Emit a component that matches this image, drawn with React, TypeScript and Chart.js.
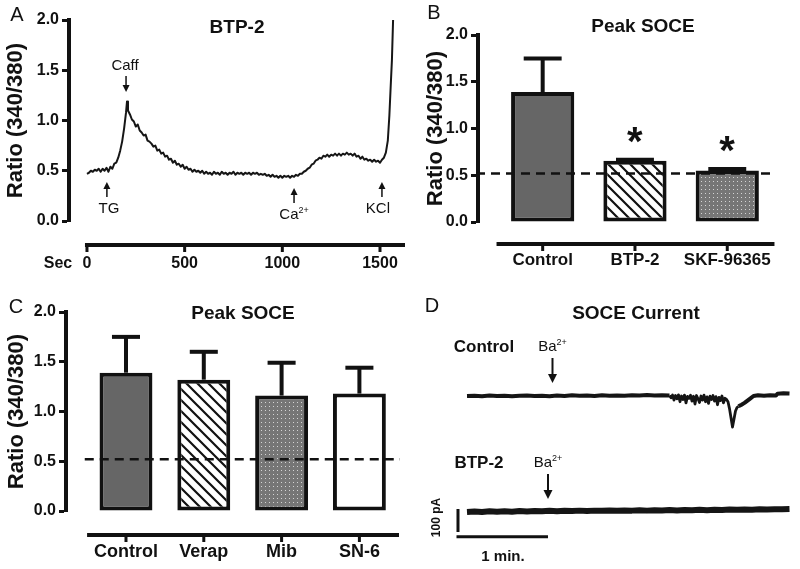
import React, { useEffect, useRef } from "react";
import { Chart, registerables } from "chart.js";

Chart.register(...registerables);

const FONT = "'Liberation Sans', Arial, Helvetica, sans-serif";
const INK = "#111111";
Chart.defaults.font.family = FONT;
Chart.defaults.color = INK;

// ---------------- Panel A : BTP-2 ratio trace ----------------
const traceTime = [
  0, 10, 20, 30, 40, 50, 60, 70, 80, 90, 100, 110, 120, 130, 140, 150, 160, 170, 180, 190,
  200, 205, 210, 220, 230, 240, 250, 260, 270, 280, 290, 300, 310, 320, 330, 340, 350, 360, 370, 380,
  390, 400, 410, 420, 430, 440, 450, 460, 470, 480, 490, 500, 510, 520, 530, 540, 550, 560, 570, 580,
  590, 600, 610, 620, 630, 640, 650, 660, 670, 680, 690, 700, 710, 720, 730, 740, 750, 760, 770, 780,
  790, 800, 810, 820, 830, 840, 850, 860, 870, 880, 890, 900, 910, 920, 930, 940, 950, 960, 970, 980,
  990, 1000, 1010, 1020, 1030, 1040, 1050, 1060, 1070, 1080, 1090, 1100, 1110, 1120, 1130, 1140, 1150, 1160, 1170, 1180,
  1190, 1200, 1210, 1220, 1230, 1240, 1250, 1260, 1270, 1280, 1290, 1300, 1310, 1320, 1330, 1340, 1350, 1360, 1370, 1380,
  1390, 1400, 1410, 1420, 1430, 1440, 1450, 1460, 1470, 1480, 1490, 1500, 1510, 1520, 1530, 1540, 1548, 1555, 1561, 1567,
];
const traceRatio = [
  0.47, 0.48, 0.5, 0.49, 0.51, 0.5, 0.52, 0.49, 0.52, 0.5, 0.53, 0.49, 0.54, 0.52, 0.57, 0.58, 0.63, 0.7, 0.79, 0.92,
  1.08, 1.19, 1.1, 1.06, 1.01, 0.99, 0.94, 0.96, 0.9, 0.88, 0.85, 0.86, 0.8, 0.79, 0.77, 0.74, 0.75, 0.7, 0.71, 0.67,
  0.68, 0.64, 0.65, 0.61, 0.62, 0.58, 0.6, 0.56, 0.57, 0.54, 0.56, 0.52, 0.54, 0.51, 0.52, 0.49, 0.51, 0.49, 0.5, 0.48,
  0.5, 0.47, 0.49, 0.47, 0.48, 0.46, 0.49, 0.47, 0.48, 0.46, 0.49, 0.47, 0.48, 0.46, 0.48, 0.47, 0.49, 0.46, 0.48, 0.47,
  0.48, 0.46, 0.48, 0.47, 0.48, 0.46, 0.48, 0.47, 0.48, 0.46, 0.47, 0.46, 0.47, 0.45, 0.46, 0.44, 0.46, 0.44, 0.45, 0.43,
  0.45, 0.43, 0.45, 0.44, 0.45, 0.43, 0.45, 0.44, 0.46, 0.45, 0.47, 0.47, 0.49, 0.5, 0.52, 0.53, 0.56, 0.57, 0.6, 0.61,
  0.63, 0.62, 0.65, 0.64, 0.66, 0.64, 0.66, 0.65, 0.67, 0.65, 0.67, 0.65, 0.67, 0.66, 0.68, 0.66, 0.67, 0.65, 0.67, 0.64,
  0.65, 0.62, 0.64, 0.61, 0.62, 0.6, 0.61, 0.59, 0.61, 0.59, 0.6, 0.58, 0.61, 0.63, 0.68, 0.8, 1.05, 1.35, 1.6, 2.0,
];
const aTicks = [0, 500, 1000, 1500];
const eventLabels = ["TG", "Caff", "Ca", "KCl"];
const eventSup = ["", "", "2+", ""];
const eventTimes = [102, 200, 1060, 1510];
const eventPointsUp = [true, false, true, true];

// ---------------- Panel B : Peak SOCE ----------------
const bCategories = ["Control", "BTP-2", "SKF-96365"];
const bMeans = [1.39, 0.655, 0.55];
const bErrors = [0.36, 0.012, 0.017];
const bSignificant = [false, true, true];

// ---------------- Panel C : Peak SOCE ----------------
const cCategories = ["Control", "Verap", "Mib", "SN-6"];
const cMeans = [1.39, 1.32, 1.16, 1.18];
const cErrors = [0.36, 0.28, 0.33, 0.26];

const baselineRatio = 0.52;

// ---------------- Panel D : SOCE current ----------------
const ctrlTime = [
  0, 5, 10, 15, 20, 25, 30, 35, 40, 45, 50, 55, 60, 65, 70, 75, 80, 85, 90, 95, 100, 105, 110, 115, 120, 125, 130, 135,
  136, 137, 138, 139, 140, 141, 142, 143, 144, 145, 146, 147, 148, 149, 150, 151, 152, 153, 154, 155, 156, 157, 158,
  159, 160, 161, 162, 163, 164, 165, 166, 167, 168, 169, 170, 171, 172,
  173, 174, 175, 176, 177, 178, 179, 180, 181, 183, 185, 187, 189, 191, 194, 198, 202, 206, 207, 211, 215,
];
const ctrlCurrent = [
  0, 1, -1, 2, 0, 1, -1, 1, 2, 0, 1, -1, 2, 0, 3, 1, 2, 0, 3, 1, 2, 1, 3, 2, 4, 2, 3, 2,
  -8, 4, -18, 2, -12, 5, -25, 0, -15, 4, -30, -2, -10, 3, -22, -1, -35, 2, -12, -28, 0, -18, 4,
  -25, -4, -32, -1, -15, 2, -22, -3, -38, -6, -20, 0, -30, -10,
  -15, -25, -55, -95, -135, -100, -65, -50, -45, -38, -30, -20, -10, 0, 3, 1, 3, 2, 10, 12, 11,
];
const btpTime = [
  0, 5, 10, 15, 20, 25, 30, 35, 40, 45, 50, 55, 60, 65, 70, 75, 80, 85, 90, 95, 100, 105,
  110, 115, 120, 125, 130, 135, 140, 145, 150, 155, 160, 165, 170, 175, 180, 185, 190, 195, 200, 205, 210, 215,
];
const btpCurrent = [
  0, 2, 0, 3, 1, 3, 1, 4, 2, 4, 3, 5, 3, 5, 4, 6, 4, 6, 5, 7, 5, 7,
  6, 8, 6, 8, 7, 9, 7, 9, 8, 10, 8, 10, 9, 11, 10, 11, 10, 12, 11, 12, 12, 13,
];
const baTimes = [57, 54];

// ---------------- drawing helpers ----------------
function label(ctx: any, s: string, x: number, y: number, size: number, bold = false, align = "center") {
  ctx.save();
  ctx.font = `${bold ? "bold " : ""}${size}px ${FONT}`;
  ctx.fillStyle = INK;
  ctx.textAlign = align;
  ctx.textBaseline = "middle";
  ctx.fillText(s, x, y);
  ctx.restore();
}

function supLabel(ctx: any, base: string, sup: string, cx: number, cy: number, size: number) {
  ctx.save();
  ctx.fillStyle = INK;
  ctx.textBaseline = "middle";
  ctx.textAlign = "left";
  ctx.font = `${size}px ${FONT}`;
  const w1 = ctx.measureText(base).width;
  const ss = Math.round(size * 0.62);
  ctx.font = `${ss}px ${FONT}`;
  const w2 = sup ? ctx.measureText(sup).width : 0;
  const x0 = cx - (w1 + w2) / 2;
  ctx.font = `${size}px ${FONT}`;
  ctx.fillText(base, x0, cy);
  if (sup) {
    ctx.font = `${ss}px ${FONT}`;
    ctx.fillText(sup, x0 + w1, cy - size * 0.32);
  }
  ctx.restore();
}

function arrow(ctx: any, x: number, yTail: number, yTip: number, lw = 1.6, head = 8, headW = 8) {
  const dir = yTip > yTail ? 1 : -1;
  ctx.save();
  ctx.strokeStyle = INK;
  ctx.fillStyle = INK;
  ctx.lineWidth = lw;
  ctx.beginPath();
  ctx.moveTo(x, yTail);
  ctx.lineTo(x, yTip - dir * head * 0.8);
  ctx.stroke();
  ctx.beginPath();
  ctx.moveTo(x, yTip);
  ctx.lineTo(x - headW / 2, yTip - dir * head);
  ctx.lineTo(x + headW / 2, yTip - dir * head);
  ctx.closePath();
  ctx.fill();
  ctx.restore();
}

function drawXAxis(ctx: any, xs: any, y: number, x0: number, x1: number, tickValues: number[]) {
  ctx.save();
  ctx.strokeStyle = INK;
  ctx.lineCap = "butt";
  ctx.lineWidth = 4;
  ctx.beginPath();
  ctx.moveTo(x0, y);
  ctx.lineTo(x1, y);
  ctx.stroke();
  ctx.lineWidth = 3;
  tickValues.forEach((v) => {
    const px = xs.getPixelForValue(v);
    ctx.beginPath();
    ctx.moveTo(px, y);
    ctx.lineTo(px, y + 7);
    ctx.stroke();
  });
  ctx.restore();
}

function drawErrorBars(chart: any, means: number[], errors: number[], capFrac: number) {
  const { ctx, scales } = chart;
  const ys = scales.y;
  const meta = chart.getDatasetMeta(0);
  const tops: number[] = [];
  ctx.save();
  ctx.strokeStyle = INK;
  ctx.lineWidth = 4;
  ctx.lineCap = "butt";
  meta.data.forEach((bar: any, i: number) => {
    const top = ys.getPixelForValue(means[i] + errors[i]);
    tops.push(top);
    const w = bar.width * capFrac;
    ctx.beginPath();
    ctx.moveTo(bar.x, bar.y);
    ctx.lineTo(bar.x, top);
    ctx.stroke();
    ctx.beginPath();
    ctx.moveTo(bar.x - w / 2, top);
    ctx.lineTo(bar.x + w / 2, top);
    ctx.stroke();
  });
  ctx.restore();
  return tops;
}

function drawDashed(ctx: any, ys: any, value: number, x0: number, x1: number) {
  const py = ys.getPixelForValue(value);
  ctx.save();
  ctx.strokeStyle = INK;
  ctx.lineWidth = 2.5;
  ctx.setLineDash([9, 6]);
  ctx.beginPath();
  ctx.moveTo(x0, py);
  ctx.lineTo(x1, py);
  ctx.stroke();
  ctx.restore();
}

function asterisk(ctx: any, cx: number, cy: number, inkWidth: number) {
  ctx.save();
  ctx.font = `bold 40px ${FONT}`;
  const m = ctx.measureText("*");
  const w40 = (m.actualBoundingBoxLeft || 0) + (m.actualBoundingBoxRight || 0) || 14;
  const size = (40 * inkWidth) / w40;
  ctx.font = `bold ${size}px ${FONT}`;
  const m2 = ctx.measureText("*");
  const off = ((m2.actualBoundingBoxAscent || 0) - (m2.actualBoundingBoxDescent || 0)) / 2;
  const xoff = ((m2.actualBoundingBoxLeft || 0) - (m2.actualBoundingBoxRight || 0)) / 2;
  ctx.fillStyle = INK;
  ctx.textAlign = "left";
  ctx.textBaseline = "alphabetic";
  ctx.fillText("*", cx + xoff, cy + off);
  ctx.restore();
}

function hatchPattern(ctx: CanvasRenderingContext2D) {
  const s = 11;
  const c = document.createElement("canvas");
  c.width = s;
  c.height = s;
  const g = c.getContext("2d")!;
  g.fillStyle = "#ffffff";
  g.fillRect(0, 0, s, s);
  g.strokeStyle = INK;
  g.lineWidth = 2.2;
  g.beginPath();
  g.moveTo(-2, -2);
  g.lineTo(s + 2, s + 2);
  g.moveTo(-2, s - 2);
  g.lineTo(2, s + 2);
  g.moveTo(s - 2, -2);
  g.lineTo(s + 2, 2);
  g.stroke();
  return ctx.createPattern(c, "repeat");
}

function dotPattern(ctx: CanvasRenderingContext2D) {
  const s = 4;
  const c = document.createElement("canvas");
  c.width = s;
  c.height = s;
  const g = c.getContext("2d")!;
  g.fillStyle = "#767676";
  g.fillRect(0, 0, s, s);
  g.fillStyle = "#d4d4d4";
  g.fillRect(1, 1, 1, 1);
  return ctx.createPattern(c, "repeat");
}

function ratioYAxis(width: number, titlePad: number) {
  return {
    min: 0,
    max: 2,
    afterFit: (s: any) => {
      s.width = width;
    },
    ticks: {
      stepSize: 0.5,
      callback: (v: any) => Number(v).toFixed(1),
      font: { size: 16, weight: "bold" },
      color: INK,
      padding: 3,
    },
    grid: { drawOnChartArea: false, drawTicks: true, tickLength: 7, tickWidth: 3, tickColor: INK },
    border: { display: true, width: 4, color: INK },
    title: {
      display: true,
      text: "Ratio (340/380)",
      font: { size: 22, weight: "bold" },
      color: INK,
      padding: { top: titlePad, bottom: 0 },
    },
  };
}

function catXAxis(min: number, max: number, height: number, labels: string[], fontSize: number, padding: number) {
  return {
    type: "linear",
    min,
    max,
    offset: false,
    afterFit: (s: any) => {
      s.height = height;
    },
    afterBuildTicks: (s: any) => {
      s.ticks = labels.map((_l, i) => ({ value: i }));
    },
    ticks: {
      autoSkip: false,
      maxRotation: 0,
      minRotation: 0,
      font: { size: fontSize, weight: "bold" },
      color: INK,
      padding,
      callback: (_v: any, i: number) => labels[i],
    },
    grid: { display: false, drawTicks: false, offset: false },
    border: { display: false },
  };
}

const baseOptions = {
  animation: false,
  responsive: false,
  devicePixelRatio: 1,
  events: [],
};

// ---------------- chart configs ----------------
function configA() {
  const plugin = {
    id: "panelA",
    afterDraw(chart: any) {
      const { ctx, chartArea } = chart;
      const x = chart.scales.x;
      drawXAxis(ctx, x, 245, x.getPixelForValue(0) - 2, chartArea.right, aTicks);
      label(ctx, "Sec", 58, 264, 16, true);
      label(ctx, "A", 17, 15, 20);
      label(ctx, "BTP-2", (chartArea.left + chartArea.right) / 2, 28, 19, true);
      eventTimes.forEach((t, i) => {
        const px = x.getPixelForValue(t);
        if (eventPointsUp[i]) {
          const tip = eventLabels[i] === "Ca" ? 188 : 182;
          arrow(ctx, px, tip + 15, tip, 1.5, 7, 7);
          const dx = eventLabels[i] === "KCl" ? -4 : eventLabels[i] === "TG" ? 2 : 0;
          supLabel(ctx, eventLabels[i], eventSup[i], px + dx, tip + 27, 15);
        } else {
          arrow(ctx, px, 76, 92, 1.5, 7, 7);
          supLabel(ctx, eventLabels[i], eventSup[i], px - 1, 66, 15);
        }
      });
    },
  };
  return {
    type: "line",
    data: {
      datasets: [
        {
          data: traceTime.map((t, i) => ({ x: t, y: traceRatio[i] })),
          borderColor: "#161616",
          borderWidth: 2,
          pointRadius: 0,
          tension: 0,
          borderJoinStyle: "round",
        },
      ],
    },
    options: {
      ...baseOptions,
      layout: { padding: { left: 0, right: 67, top: 20, bottom: 0 } },
      plugins: { legend: { display: false }, tooltip: { enabled: false } },
      scales: {
        x: {
          type: "linear",
          min: -92,
          max: 1628,
          afterFit: (s: any) => {
            s.height = 64;
          },
          afterBuildTicks: (s: any) => {
            s.ticks = aTicks.map((v) => ({ value: v }));
          },
          ticks: {
            autoSkip: false,
            maxRotation: 0,
            font: { size: 16, weight: "bold" },
            color: INK,
            padding: 33,
            callback: (v: any) => String(v),
          },
          grid: { display: false, drawTicks: false },
          border: { display: false },
        },
        y: ratioYAxis(69, 3),
      },
    },
    plugins: [plugin],
  };
}

function configB(ctx: CanvasRenderingContext2D) {
  const plugin = {
    id: "panelB",
    afterDatasetsDraw(chart: any) {
      const tops = drawErrorBars(chart, bMeans, bErrors, 0.6);
      const { ctx: c, chartArea } = chart;
      drawDashed(c, chart.scales.y, baselineRatio, chartArea.left - 2, chartArea.right + 1);
      const meta = chart.getDatasetMeta(0);
      meta.data.forEach((bar: any, i: number) => {
        if (bSignificant[i]) asterisk(c, bar.x, tops[i] - 25, 16);
      });
    },
    afterDraw(chart: any) {
      const { ctx: c, chartArea } = chart;
      const x = chart.scales.x;
      drawXAxis(c, x, 244, x.getPixelForValue(-0.5), chartArea.right, bCategories.map((_l, i) => i));
      label(c, "B", 34, 13, 20);
      label(c, "Peak SOCE", 243, 27, 19, true);
    },
  };
  return {
    type: "bar",
    data: {
      datasets: [
        {
          data: bMeans.map((v, i) => ({ x: i, y: v })),
          backgroundColor: ["#666666", hatchPattern(ctx), dotPattern(ctx)],
          borderColor: INK,
          borderWidth: 4,
          borderSkipped: false,
          barPercentage: 0.685,
          categoryPercentage: 1,
        },
      ],
    },
    options: {
      ...baseOptions,
      layout: { padding: { left: 0, right: 8, top: 35, bottom: 0 } },
      plugins: { legend: { display: false }, tooltip: { enabled: false } },
      scales: {
        x: catXAxis(-0.7008, 2.5115, 63, bCategories, 17, 28),
        y: ratioYAxis(78, 23),
      },
    },
    plugins: [plugin],
  };
}

function configC(ctx: CanvasRenderingContext2D) {
  const plugin = {
    id: "panelC",
    afterDatasetsDraw(chart: any) {
      drawErrorBars(chart, cMeans, cErrors, 0.53);
      const x = chart.scales.x;
      drawDashed(chart.ctx, chart.scales.y, baselineRatio, x.getPixelForValue(-0.53), chart.chartArea.right + 1);
    },
    afterDraw(chart: any) {
      const { ctx: c, chartArea } = chart;
      const x = chart.scales.x;
      drawXAxis(c, x, 250, x.getPixelForValue(-0.5), chartArea.right, cCategories.map((_l, i) => i));
      label(c, "C", 16, 22, 20);
      label(c, "Peak SOCE", 243, 29, 19, true);
    },
  };
  return {
    type: "bar",
    data: {
      datasets: [
        {
          data: cMeans.map((v, i) => ({ x: i, y: v })),
          backgroundColor: ["#666666", hatchPattern(ctx), dotPattern(ctx), "#ffffff"],
          borderColor: INK,
          borderWidth: 4,
          borderSkipped: false,
          barPercentage: 0.68,
          categoryPercentage: 1,
        },
      ],
    },
    options: {
      ...baseOptions,
      layout: { padding: { left: 0, right: 21, top: 27, bottom: 0 } },
      plugins: { legend: { display: false }, tooltip: { enabled: false } },
      scales: {
        x: catXAxis(-0.771, 3.509, 58, cCategories, 18, 30),
        y: ratioYAxis(66, 3.5),
      },
    },
    plugins: [plugin],
  };
}

function configD() {
  const plugin = {
    id: "panelD",
    afterDraw(chart: any) {
      const { ctx } = chart;
      const { x, y, y2 } = chart.scales;
      label(ctx, "D", 12, 21, 20);
      label(ctx, "SOCE Current", 216, 29, 19, true);
      const bases = [y.getPixelForValue(0), y2.getPixelForValue(0)];
      const names = ["Control", "BTP-2"];
      bases.forEach((b, i) => {
        label(ctx, names[i], i === 0 ? 64 : 59, b - 49, 17, true);
        const ax = x.getPixelForValue(baTimes[i]);
        supLabel(ctx, "Ba", "2+", ax, b - 49, 15);
        arrow(ctx, ax, b - 38, b - 13, 2, 9, 9);
      });
      // scale bars
      const sx = x.getPixelForValue(-6);
      const sx2 = x.getPixelForValue(54);
      const vy0 = y2.getPixelForValue(13);
      const vy1 = y2.getPixelForValue(-87);
      const hy = y2.getPixelForValue(-108);
      ctx.save();
      ctx.strokeStyle = INK;
      ctx.lineWidth = 3;
      ctx.beginPath();
      ctx.moveTo(sx, vy0);
      ctx.lineTo(sx, vy1);
      ctx.moveTo(sx - 1.5, hy);
      ctx.lineTo(sx2, hy);
      ctx.stroke();
      ctx.restore();
      ctx.save();
      ctx.translate(sx - 21, (vy0 + vy1) / 2 - 3);
      ctx.rotate(-Math.PI / 2);
      label(ctx, "100 pA", 0, 0, 12, true);
      ctx.restore();
      label(ctx, "1 min.", (sx + sx2) / 2, hy + 20, 15, true);
    },
  };
  return {
    type: "line",
    data: {
      datasets: [
        {
          data: ctrlTime.map((t, i) => ({ x: t, y: ctrlCurrent[i] })),
          yAxisID: "y",
          borderColor: "#151515",
          borderWidth: 4,
          pointRadius: 0,
          tension: 0,
          borderJoinStyle: "round",
          segment: {
            borderWidth: (c: any) =>
              c.p0.parsed.x >= 135 && c.p1.parsed.x <= 182 ? 2.8 : undefined,
          },
        },
        {
          data: btpTime.map((t, i) => ({ x: t, y: btpCurrent[i] })),
          yAxisID: "y2",
          borderColor: "#151515",
          borderWidth: 6,
          pointRadius: 0,
          tension: 0,
          borderJoinStyle: "round",
        },
      ],
    },
    options: {
      ...baseOptions,
      layout: { padding: 0 },
      plugins: { legend: { display: false }, tooltip: { enabled: false } },
      scales: {
        x: { type: "linear", min: -31.33, max: 222, display: false },
        y: { type: "linear", min: -752.2, max: 482.6, display: false },
        y2: { type: "linear", min: -247.8, max: 987, display: false, position: "right" },
      },
    },
    plugins: [plugin],
  };
}

function Panel({ left, top, width, height, make }: any) {
  const ref = useRef<HTMLCanvasElement>(null);
  useEffect(() => {
    const canvas = ref.current!;
    const ctx = canvas.getContext("2d")!;
    const chart = new Chart(canvas, make(ctx) as any);
    return () => chart.destroy();
  }, []);
  return (
    <canvas
      ref={ref}
      width={width}
      height={height}
      style={{ position: "absolute", left, top, width, height }}
    />
  );
}

export default function App() {
  return (
    <div
      style={{
        position: "absolute",
        left: 0,
        top: 0,
        width: 800,
        height: 569,
        background: "#ffffff",
        overflow: "hidden",
      }}
    >
      <Panel left={0} top={0} width={472} height={285} make={() => configA()} />
      <Panel left={400} top={0} width={400} height={285} make={(c: any) => configB(c)} />
      <Panel left={0} top={285} width={420} height={284} make={(c: any) => configC(c)} />
      <Panel left={420} top={285} width={380} height={284} make={() => configD()} />
    </div>
  );
}
